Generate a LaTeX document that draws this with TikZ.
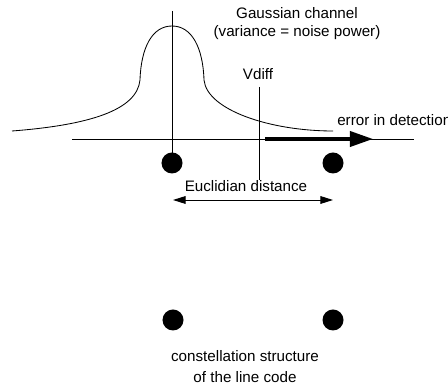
\documentclass[tikz,border=0pt]{standalone}
\usepackage{fontspec}
\setmainfont{Liberation Sans}
\usetikzlibrary{arrows.meta, positioning}
\tikzset{
  punto/.style={circle, fill=black, minimum size=0.525cm, inner sep=0pt},
  eje/.style={line width=0.6pt, color=black},
  rotulo/.style={font=\fontsize{10.8}{12.8}\selectfont, align=center, inner sep=0pt},
  rotulob/.style={font=\fontsize{10.8}{14.9}\selectfont, align=center, inner sep=0pt},
  flechagruesa/.style={line width=2.6pt, -{Triangle[length=0.575cm, width=0.375cm]}},
  flechadoble/.style={line width=0.7pt, {Triangle[length=9pt, width=5.5pt]}-{Triangle[length=9pt, width=5.5pt]}}
}
\begin{document}
\begin{tikzpicture}[x=0.025cm, y=-0.025cm]
  \clip (0,0) rectangle (448,385);
  % puntos de la constelacion
  \node (p1) [punto] at (172,163) {};
  \node (p2) [punto] at (333,163) {};
  \node (p3) [punto] at (173,320) {};
  \node (p4) [punto] at (333,320) {};
  % ejes
  \coordinate (ejeizq) at (72,139);  \coordinate (ejeder) at (414,139);
  \coordinate (ejesup) at (172,11);
  \draw [eje] (ejeizq) -- (ejeder);
  \draw [eje] (ejesup) -- (p1.center);
  % campana gaussiana
  \coordinate (colaizq) at (12,131); \coordinate (pico) at (172,26); \coordinate (colader) at (333,131);
  \draw [eje] (colaizq) .. controls (90,125) and (137,110) .. (140,80)
              .. controls (141,48) and (152,26) .. (pico)
              .. controls (192,26) and (203,48) .. (204,80)
              .. controls (207,110) and (270,131) .. (colader);
  % umbral Vdiff
  \coordinate (vdsup) at (259,87); \coordinate (vdinf) at (259,180);
  \draw [eje] (vdsup) -- (vdinf);
  \node (vdiff) [rotulo] at (258,74) {Vdiff};
  \coordinate (errini) at (265,139); \coordinate (errfin) at (373,139);
  \draw [flechagruesa] (errini) -- (errfin);
  \node (error) [rotulo, anchor=west] at (337,120) {error in detection};
  \node (gauss) [rotulo] at (297,24) {Gaussian channel\\(variance = noise power)};
  % distancia euclidiana
  \coordinate (distizq) at (173,200); \coordinate (distder) at (333,200);
  \draw [flechadoble] (distizq) -- (distder);
  \node (dist) [rotulo] at (246,186) {Euclidian distance};
  \node (conste) [rotulob] at (245,367) {constellation structure\\of the line code};
\end{tikzpicture}
\end{document}
